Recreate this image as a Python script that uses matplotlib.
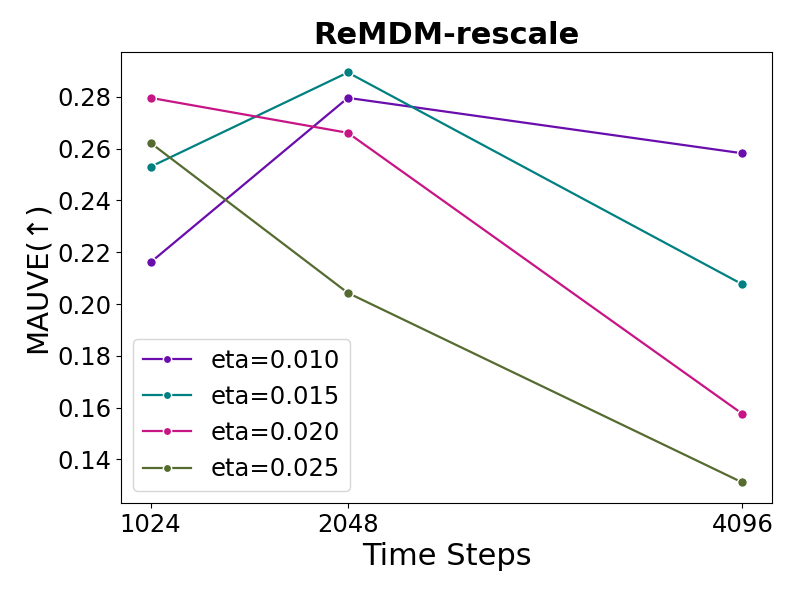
import matplotlib
matplotlib.use('Agg')
import matplotlib.pyplot as plt

steps = [1024, 2048, 4096]
etas = ['eta=0.010', 'eta=0.015', 'eta=0.020', 'eta=0.025']
mauve_010 = [0.2161, 0.2796, 0.2582]
mauve_015 = [0.2530, 0.2894, 0.2076]
mauve_020 = [0.2796, 0.2661, 0.1576]
mauve_025 = [0.2622, 0.2043, 0.1311]
colors = ['#6a0dad', '#008080', '#c71585', '#556b2f']

fig = plt.figure(figsize=(7.93, 5.94), dpi=100)
ax = fig.add_axes([0.1526, 0.1532, 0.8209, 0.7593])

for lab, vals, c in zip(etas, [mauve_010, mauve_015, mauve_020, mauve_025], colors):
    ax.plot(steps, vals, '-o', color=c, lw=1.6, markersize=7,
            markeredgecolor='white', markeredgewidth=1, label=lab)

ax.set_xticks(steps)
ax.set_xticklabels([str(s) for s in steps])
ax.tick_params(labelsize=17.5)
ax.set_xlabel('Time Steps', fontsize=22)
ax.set_ylabel('MAUVE(↑)', fontsize=21)
ax.set_title('ReMDM-rescale', fontsize=22, fontweight='bold')
ax.legend(loc='lower left', fontsize=17.5, markerscale=0.85)

fig.savefig('out.png', dpi=100)
